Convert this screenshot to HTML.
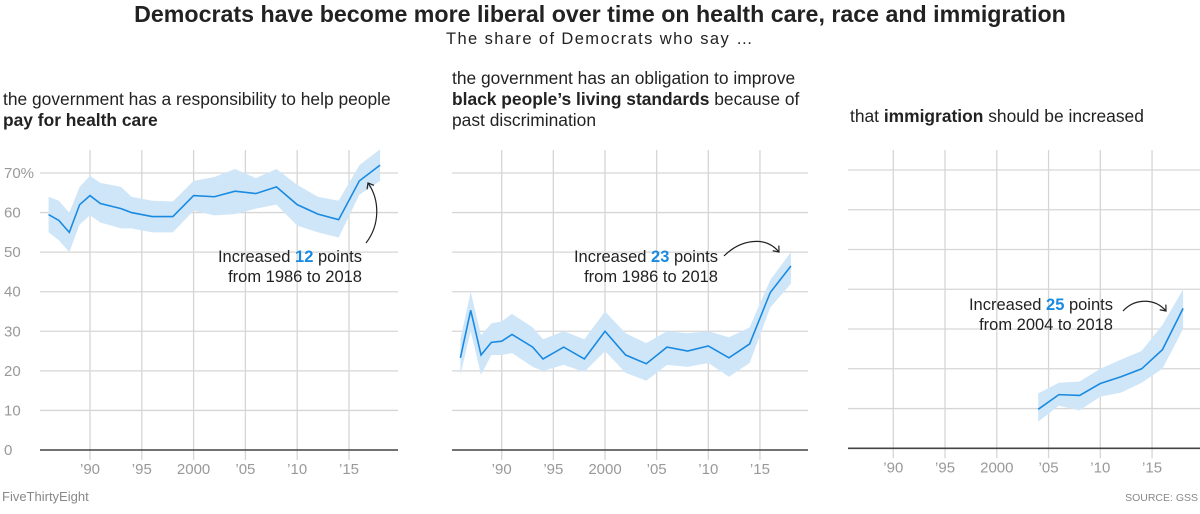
<!DOCTYPE html>
<html><head><meta charset="utf-8">
<style>
body{margin:0;background:#fff;width:1200px;height:509px;overflow:hidden;font-family:"Liberation Sans",sans-serif;}
svg text{font-family:"Liberation Sans",sans-serif;}
</style></head>
<body>
<svg id="chart" width="1200" height="509" viewBox="0 0 1200 509" xmlns="http://www.w3.org/2000/svg">
<text x="600" y="22" text-anchor="middle" font-size="23.2" font-weight="bold" fill="#222">Democrats have become more liberal over time on health care, race and immigration</text>
<text x="600" y="44" text-anchor="middle" font-size="16.5" letter-spacing="1.4" fill="#222">The share of Democrats who say …</text>
<text font-size="17.4" fill="#222"><tspan x="3" y="105">the government has a responsibility to help people</tspan><tspan x="3" y="126" font-weight="bold">pay for health care</tspan></text>
<text font-size="17.4" fill="#222"><tspan x="452" y="84">the government has an obligation to improve</tspan><tspan x="452" y="105"><tspan font-weight="bold">black people’s living standards</tspan> because of</tspan><tspan x="452" y="126">past discrimination</tspan></text>
<text font-size="17.4" fill="#222" x="850" y="122">that <tspan font-weight="bold">immigration</tspan> should be increased</text>
<text x="2" y="501" font-size="13" fill="#888">FiveThirtyEight</text>
<text x="1198" y="501" text-anchor="end" font-size="10.5" fill="#888">SOURCE: GSS</text>
<g id="plots"></g>
</svg>
<script>
const yTicks = [0,10,20,30,40,50,60,70];
const xTickYears = [1990,1995,2000,2005,2010,2015];
const xTickLabels = ["’90","’95","2000","’05","’10","’15"];

const years1 = [1986,1987,1988,1989,1990,1991,1993,1994,1996,1998,2000,2002,2004,2006,2008,2010,2012,2014,2016,2018];
const health = [59.5,58,55,62,64.3,62.3,61,60,59,59,64.3,64,65.4,64.8,66.5,62,59.6,58.2,68,72];
const healthHi = [64,63,60,66.5,69.3,67.5,66.5,64,63,62.8,68,69,71,68.7,71,67,64,63,72,76];
const healthLo = [55,53,50,57,59.3,57.5,56,56,55,55,60.5,59.3,59.6,61,62,56.7,55,53.7,64.5,68];

const years2 = [1986,1987,1988,1989,1990,1991,1993,1994,1996,1998,2000,2002,2004,2006,2008,2010,2012,2014,2016,2018];
const race = [23.3,35.3,24,27.2,27.5,29.2,26,23,26,23,30,24,21.8,26,25,26.3,23.3,26.8,39.8,46.5];
const raceHi = [28,40,29,32,32.5,34.4,31,28,30,28,35,29.5,27,30,29.5,30,28.5,31,43,50];
const raceLo = [19,30,19,24,24,24.5,21,20,21.5,19.7,25,19.5,17.5,21.5,21,22,18.5,22,36,42];

const years3 = [2004,2006,2008,2010,2012,2014,2016,2018];
const immig = [9.8,13.5,13.3,16.3,18,20,24.8,35.2];
const immigHi = [13.8,16.5,16.8,20,22.3,24.5,31,40];
const immigLo = [6.7,10.7,9.5,13,14,16.5,20,30];

const NS="http://www.w3.org/2000/svg";
const root=document.getElementById('plots');
function mk(tag,attrs,parent){const e=document.createElementNS(NS,tag);for(const k in attrs)e.setAttribute(k,attrs[k]);(parent||root).appendChild(e);return e;}

const panels=[
 {id:'health',x90:90,pxYr:10.36,gx0:40,gx1:398,y0:450,y70:173,yrs:years1,v:health,hi:healthHi,lo:healthLo,labels:true},
 {id:'race',x90:501.7,pxYr:10.33,gx0:452,gx1:808,y0:450,y70:173,yrs:years2,v:race,hi:raceHi,lo:raceLo,labels:false},
 {id:'immigration',x90:893.3,pxYr:10.35,gx0:848,gx1:1200,y0:448.3,y70:170,yrs:years3,v:immig,hi:immigHi,lo:immigLo,labels:false}
];
panels.forEach(p=>{
 const xs=yr=>p.x90+(yr-1990)*p.pxYr;
 const ys=v=>p.y0-(v/70)*(p.y0-p.y70);
 const g=mk('g',{});
 
 
 xTickYears.forEach((yr,i)=>{
  const l=mk('line',{x1:xs(yr),x2:xs(yr),y1:150,y2:p.y0+10,stroke:'#d6d6d6','stroke-width':1.3},g);
  
  
  const t=mk('text',{x:xs(yr),y:p.y0+24,'text-anchor':'middle','font-size':15,fill:'#999'},g);
  t.textContent=xTickLabels[i];
  
  
 });
 yTicks.forEach(v=>{
  if(v===0)return;
  const l=mk('line',{x1:p.gx0,x2:p.gx1,y1:ys(v),y2:ys(v),stroke:'#d6d6d6','stroke-width':1.3},g);
  
  
 });
 if(p.labels){
  yTicks.forEach(v=>{
   const t=mk('text',{x:4,y:ys(v)+5,'font-size':15,fill:'#999'},g);
   t.textContent=v===70?'70%':String(v);
   
   
  });
 }
 const ax=mk('line',{x1:p.gx0,x2:p.gx1,y1:p.y0,y2:p.y0,stroke:'#444','stroke-width':1.6},g);
 
 
 let d='';
 p.yrs.forEach((yr,i)=>{d+=(i?'L':'M')+xs(yr)+','+ys(p.hi[i]);});
 for(let i=p.yrs.length-1;i>=0;i--)d+='L'+xs(p.yrs[i])+','+ys(p.lo[i]);
 const band=mk('path',{d:d+'Z',fill:'#cfe6f9'},g);
 
 
 const pts=p.yrs.map((yr,i)=>xs(yr)+','+ys(p.v[i])).join(' ');
 const line=mk('polyline',{points:pts,fill:'none',stroke:'#1a8ae0','stroke-width':1.6},g);
 
 
});

function ann(name,x,y,num,line2){
 const t=mk('text',{x:x,y:y,'text-anchor':'end','font-size':16.5,fill:'#222'});
 t.innerHTML='Increased <tspan font-weight="bold" fill="#1a8ae0">'+num+'</tspan> points';
 
 
 const t2=mk('text',{x:x,y:y+20,'text-anchor':'end','font-size':16.5,fill:'#222'});
 t2.textContent=line2;
 
 
}
ann('health-annotation',362,262,'12','from 1986 to 2018');
ann('race-annotation',718,262,'23','from 1986 to 2018');
ann('immigration-annotation',1113,310,'25','from 2004 to 2018');
function arrow(name,d,hx,hy,ang){
 const a=mk('path',{d:d,fill:'none',stroke:'#222','stroke-width':1.2});
 
 
 const h=mk('path',{d:'M-5,-4 L0,0 L-5,4',fill:'none',stroke:'#222','stroke-width':1.2,transform:'translate('+hx+','+hy+') rotate('+ang+')'});
 
 
}
arrow('health-arrow','M366,243 C380,225 380,200 368,183',368,183,-120);
arrow('race-arrow','M724,256 C740,240 765,235 779,252',779,252,50);
arrow('immigration-arrow','M1123,311 C1135,298 1155,298 1166,311',1166,311,50);
</script>
</body></html>
